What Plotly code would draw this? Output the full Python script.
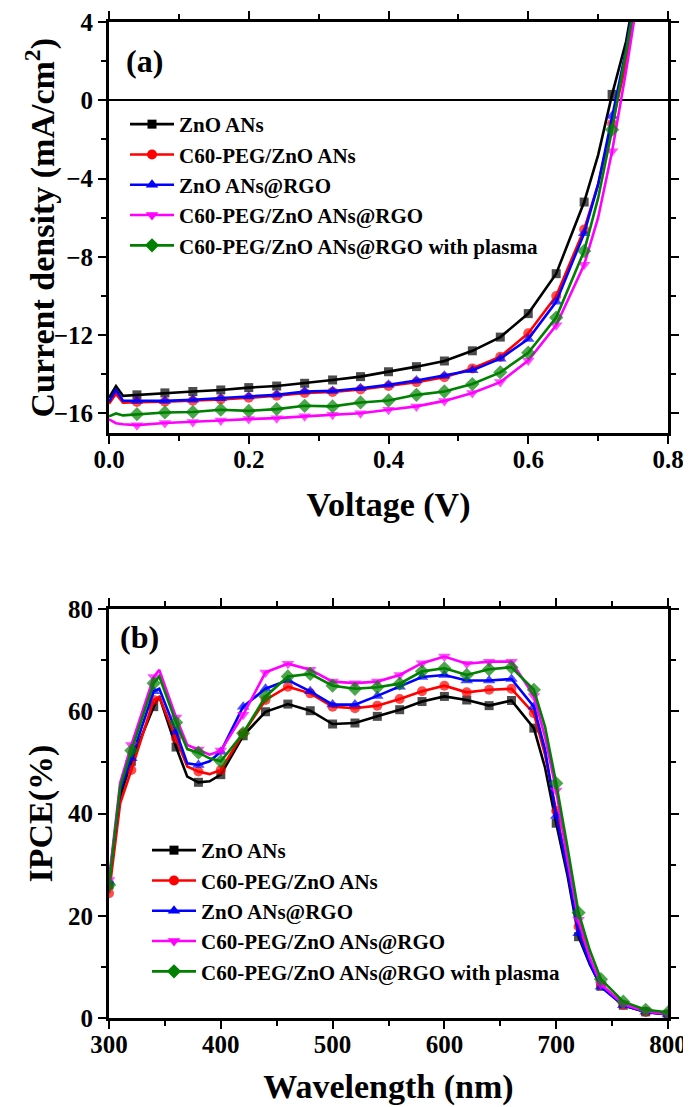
import plotly.graph_objects as go

# ---------------- Data: panel (a) J-V curves ----------------
V = [0.0, 0.01, 0.02, 0.04, 0.08, 0.12, 0.16, 0.20, 0.24, 0.28, 0.32, 0.36,
     0.40, 0.44, 0.48, 0.52, 0.56, 0.60, 0.64, 0.68, 0.70, 0.72, 0.74, 0.76]

J_zno = [-15.2, -14.6, -15.1, -15.05, -14.95, -14.88, -14.8, -14.68, -14.6, -14.46, -14.29, -14.12,
         -13.87, -13.61, -13.32, -12.8, -12.1, -10.9, -8.86, -5.2, -2.8, 0.3, 3.0, 7.0]
J_c60 = [-15.5, -15.0, -15.45, -15.42, -15.4, -15.35, -15.28, -15.2, -15.1, -14.95, -14.9, -14.78,
         -14.6, -14.4, -14.15, -13.7, -13.1, -11.9, -10.0, -6.6, -4.3, -1.2, 1.9, 6.5]
J_rgo = [-15.4, -14.8, -15.35, -15.36, -15.36, -15.3, -15.22, -15.14, -15.05, -14.88, -14.85, -14.71,
         -14.54, -14.32, -14.07, -13.8, -13.2, -12.2, -10.3, -6.8, -4.3, -0.8, 2.6, 7.0]
J_c60rgo = [-16.3, -16.5, -16.55, -16.6, -16.49, -16.44, -16.36, -16.29, -16.24, -16.15, -16.07, -15.99,
            -15.81, -15.64, -15.36, -14.96, -14.4, -13.3, -11.5, -8.4, -6.0, -2.6, 1.5, 6.0]
J_plasma = [-16.15, -16.0, -16.1, -16.04, -15.95, -15.93, -15.81, -15.87, -15.78, -15.61, -15.64, -15.44,
            -15.34, -15.05, -14.88, -14.5, -13.9, -12.9, -11.1, -7.7, -5.0, -1.5, 2.3, 6.5]

# ---------------- Data: panel (b) IPCE spectra ----------------
WL = [300, 310, 320, 340, 345, 360, 370, 380, 390, 400, 420, 440, 460, 480, 500, 520, 540,
      560, 580, 600, 620, 640, 660, 680, 690, 700, 710, 720, 730, 740, 760, 780, 800]

P_zno = [26.0, 43.3, 50.2, 60.9, 62.9, 53.0, 47.2, 46.1, 46.3, 47.6, 55.2, 59.9, 61.4, 60.1, 57.5, 57.7, 59.0,
         60.3, 61.9, 62.9, 62.2, 61.1, 62.1, 56.7, 49.0, 38.1, 28.0, 15.9, 10.5, 6.2, 2.5, 1.2, 0.7]
P_c60 = [24.4, 42.0, 48.5, 62.2, 62.8, 54.7, 49.2, 48.2, 47.7, 48.5, 55.7, 62.2, 64.8, 63.5, 60.9, 60.6, 61.1,
         62.4, 63.9, 65.0, 63.7, 64.2, 64.4, 59.6, 51.5, 40.5, 29.5, 17.9, 11.3, 6.5, 2.6, 1.2, 0.7]
P_rgo = [26.7, 44.6, 50.8, 63.9, 64.4, 56.0, 49.8, 49.5, 50.2, 52.1, 60.9, 64.4, 66.1, 63.9, 61.3, 61.3, 63.0,
         64.8, 66.7, 67.1, 66.0, 66.0, 66.3, 60.9, 52.5, 39.5, 29.0, 16.6, 10.7, 6.1, 2.5, 1.2, 0.7]
P_c60rgo = [27.0, 46.0, 53.4, 66.7, 68.1, 58.8, 53.4, 52.5, 51.5, 52.3, 59.3, 67.6, 69.3, 68.1, 65.8, 65.5, 65.8,
            67.1, 69.4, 70.7, 69.3, 69.7, 69.7, 63.0, 55.0, 44.5, 31.0, 19.2, 11.8, 6.6, 2.7, 1.3, 0.8]
P_plasma = [26.0, 45.3, 52.3, 65.5, 66.8, 57.8, 52.6, 51.9, 50.8, 50.2, 55.7, 62.9, 66.8, 67.3, 65.0, 64.4, 64.7,
            65.4, 67.8, 68.4, 67.1, 68.2, 68.6, 64.2, 57.0, 45.9, 33.5, 20.6, 13.3, 7.6, 3.2, 1.6, 1.1]

names = ["ZnO ANs", "C60-PEG/ZnO ANs", "ZnO ANs@RGO", "C60-PEG/ZnO ANs@RGO",
         "C60-PEG/ZnO ANs@RGO with plasma"]
colors = ["#000000", "#FF0000", "#0000FF", "#FF00FF", "#008000"]
symbols = ["square", "circle", "triangle-up", "triangle-down", "diamond"]
msizes = [9, 10, 11, 11, 11]

J_all = [J_zno, J_c60, J_rgo, J_c60rgo, J_plasma]
P_all = [P_zno, P_c60, P_rgo, P_c60rgo, P_plasma]

FONT = "Liberation Serif"

fig = go.Figure()

for i in range(5):
    sz_a = [msizes[i] if (round(v * 100) % 4 == 0 and 0 < v <= 0.72) else 0 for v in V]
    fig.add_trace(go.Scatter(
        x=V, y=J_all[i], mode="lines+markers", xaxis="x", yaxis="y",
        line=dict(color=colors[i], width=2.6),
        marker=dict(symbol=symbols[i], size=sz_a, color=colors[i], line=dict(width=0)),
        showlegend=False, hoverinfo="x+y"))
    fig.add_trace(go.Scatter(
        x=[None], y=[None], mode="lines+markers", name=names[i], xaxis="x", yaxis="y",
        line=dict(color=colors[i], width=2.6),
        marker=dict(symbol=symbols[i], size=msizes[i], color=colors[i]),
        legend="legend"))

for i in range(5):
    sz_b = [msizes[i] if w % 20 == 0 else 0 for w in WL]
    fig.add_trace(go.Scatter(
        x=WL, y=P_all[i], mode="lines+markers", xaxis="x2", yaxis="y2",
        line=dict(color=colors[i], width=2.6),
        marker=dict(symbol=symbols[i], size=sz_b, color=colors[i], line=dict(width=0)),
        showlegend=False, hoverinfo="x+y"))
    fig.add_trace(go.Scatter(
        x=[None], y=[None], mode="lines+markers", name=names[i], xaxis="x2", yaxis="y2",
        line=dict(color=colors[i], width=2.6),
        marker=dict(symbol=symbols[i], size=msizes[i], color=colors[i]),
        legend="legend2"))

# page has an 8px body margin; figure is sized to fit inside the 691x1107 window
OFF = 8
W, H = 691 - OFF, 1107 - OFF


def px(x):
    return (x - OFF) / W


def py(y):
    return 1 - (y - OFF) / H


xdom = [px(109), px(668)]
ydom_a = [py(433), py(22)]
ydom_b = [py(1018), py(609)]

tickfont = dict(family=FONT, size=25, color="black", weight="bold")
titlefont = dict(family=FONT, size=34, color="black", weight="bold")
legfont = dict(family=FONT, size=21, color="black", weight="bold")

common = dict(showline=True, linewidth=2.8, linecolor="black", mirror="allticks",
              ticks="outside", ticklen=8, tickwidth=2, tickcolor="black",
              showgrid=False, tickfont=tickfont, automargin=False)

fig.update_layout(
    width=W, height=H,
    margin=dict(l=0, r=0, t=0, b=0, autoexpand=False),
    paper_bgcolor="white", plot_bgcolor="white",
    font=dict(family=FONT, color="black", weight="bold"),
    xaxis=dict(domain=xdom, anchor="y", range=[0, 0.8], tick0=0, dtick=0.2, tickformat=".1f",
               zeroline=False, ticklabelstandoff=-6,
               minor=dict(dtick=0.1, ticklen=5, tickwidth=2, ticks="outside", tickcolor="black"),
               title=dict(text="Voltage (V)", font=titlefont, standoff=21), **common),
    yaxis=dict(domain=ydom_a, anchor="x", range=[-17, 4], tick0=0, dtick=4,
               zeroline=True, zerolinecolor="black", zerolinewidth=2,
               minor=dict(dtick=2, ticklen=5, tickwidth=2, ticks="outside", tickcolor="black"),
               **common),
    xaxis2=dict(domain=xdom, anchor="y2", range=[300, 800], tick0=300, dtick=100,
                zeroline=False, ticklabelstandoff=-6,
                minor=dict(dtick=50, ticklen=5, tickwidth=2, ticks="outside", tickcolor="black"),
                title=dict(text="Wavelength (nm)", font=titlefont, standoff=18), **common),
    yaxis2=dict(domain=ydom_b, anchor="x2", range=[0, 80], tick0=0, dtick=20,
                zeroline=False,
                minor=dict(dtick=10, ticklen=5, tickwidth=2, ticks="outside", tickcolor="black"),
                **common),
    legend=dict(x=px(130 - 5), y=py(126 - 22), xanchor="left", yanchor="top",
                bgcolor="rgba(0,0,0,0)", borderwidth=0, tracegroupgap=0,
                font=legfont, itemwidth=44),
    legend2=dict(x=px(152 - 5), y=py(852 - 22), xanchor="left", yanchor="top",
                 bgcolor="rgba(0,0,0,0)", borderwidth=0, tracegroupgap=0,
                 font=legfont, itemwidth=44),
    annotations=[
        dict(text="Current density (mA/cm<sup>2</sup>)", xref="paper", yref="paper",
             x=px(40), y=(ydom_a[0] + ydom_a[1]) / 2, textangle=-90,
             xanchor="center", yanchor="middle", showarrow=False, font=titlefont),
        dict(text="IPCE(%)", xref="paper", yref="paper",
             x=px(40), y=(ydom_b[0] + ydom_b[1]) / 2, textangle=-90,
             xanchor="center", yanchor="middle", showarrow=False, font=titlefont),
        dict(text="(a)", xref="paper", yref="paper", x=px(124), y=py(61),
             xanchor="left", yanchor="middle", showarrow=False,
             font=dict(family=FONT, size=32, color="black", weight="bold")),
        dict(text="(b)", xref="paper", yref="paper", x=px(118), y=py(637),
             xanchor="left", yanchor="middle", showarrow=False,
             font=dict(family=FONT, size=32, color="black", weight="bold")),
    ],
)

fig.write_html("out.html")
